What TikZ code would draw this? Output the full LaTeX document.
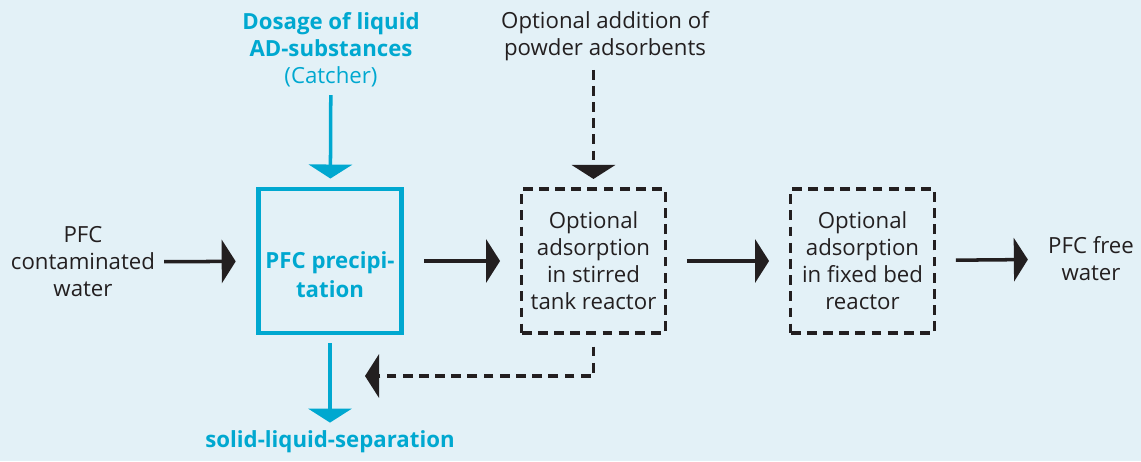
\documentclass[tikz,border=0pt]{standalone}
\usepackage{fontspec}
\setmainfont{Open Sans}
\usetikzlibrary{arrows.meta}
\definecolor{pfcblue}{RGB}{0,168,208}
\definecolor{pfcback}{RGB}{227,241,247}
\definecolor{pfcblack}{RGB}{35,31,32}

\begin{document}
\begin{tikzpicture}[x=0.025cm, y=-0.025cm,
    txt/.style={inner sep=0pt, align=center, text=pfcblack, font=\fontsize{15.8}{19.2}\selectfont},
    ctxt/.style={txt, text=pfcblue},
    stage/.style={draw=pfcblue, line width=3.5pt, minimum width=3.59cm, minimum height=3.6cm},
    optstage/.style={txt, draw=pfcblack, line width=2.3pt, dash pattern=on 7pt off 4.5pt, minimum width=3.59cm, minimum height=3.6cm},
    flow/.style={draw=pfcblack, line width=2.5pt, -{Triangle[length=0.35cm, width=1.08cm]}, shorten <=0.5cm, shorten >=0.5cm},
    dflow/.style={flow, line width=2.3pt, dash pattern=on 7pt off 4.5pt},
    cflow/.style={flow, draw=pfcblue, fill=pfcblue, shorten <=0.19cm, shorten >=0.2cm}]
    \fill[pfcback] (0,0) rectangle (1141,461);

    \node[txt] (in) at (83,262) {PFC\\contaminated\\water};
    \node[stage] (prec) at (330,261) {};
    \node[ctxt, font=\fontsize{15.8}{20.6}\selectfont\bfseries] (prectext) at (330,275) {PFC precipi-\\tation};
    \node[optstage] (stir) at (593.5,261) {Optional\\adsorption\\in stirred\\tank reactor};
    \node[optstage] (fixbed) at (862.5,261) {Optional\\adsorption\\in fixed bed\\reactor};
    \node[txt] (out) at (1091,259) {PFC free\\water};
    \node[ctxt] (dose) at (331,50) {\textbf{Dosage of liquid}\\\textbf{AD-substances}\\(Catcher)};
    \node[txt] (add) at (605,36) {Optional addition of\\powder adsorbents};
    \node[ctxt, font=\fontsize{15.8}{19.2}\selectfont\bfseries] (sep) at (330,442) {solid-liquid-separation};
    \coordinate (back) at (365,376);

    \draw[flow, shorten <=0.22cm] (in) -- (prec);
    \draw[flow] (prec) -- (stir);
    \draw[flow] (stir) -- (fixbed);
    \draw[flow] (fixbed) -- (out);
    \draw[cflow] (dose) -- (prec);
    \draw[cflow] (prec) -- (sep);
    \draw[dflow, shorten <=0.22cm, shorten >=0.21cm] (add.south -| stir.north) -- (stir.north);
    \draw[dflow, shorten <=0.3cm, shorten >=0cm] (stir.south) |- (back);
\end{tikzpicture}
\end{document}
